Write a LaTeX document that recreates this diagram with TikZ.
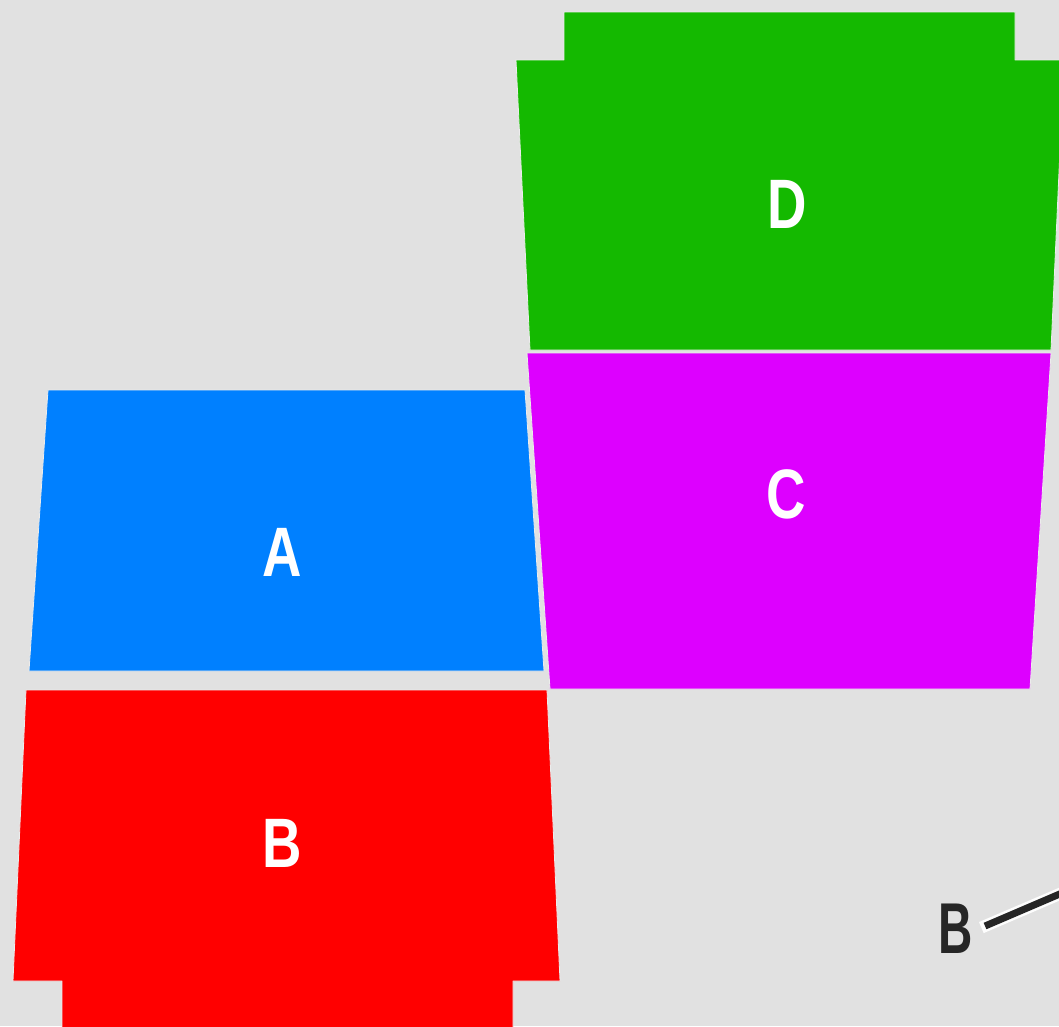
\documentclass[tikz,border=0pt]{standalone}
\usepackage{fontspec}
\usetikzlibrary{calc}
\setmainfont{Liberation Sans}
\begin{document}
\begin{tikzpicture}[x=1pt,y=-1pt,
  piece/.style={draw=white!85!gray,line width=0.8pt,line join=round},
  lbl/.style={text=white,font=\fontsize{70}{70}\selectfont\bfseries,inner sep=0pt},
  dlbl/.style={text=black!85,font=\fontsize{72}{72}\selectfont\bfseries,inner sep=0pt}]
\definecolor{bg}{HTML}{E1E1E1}
\definecolor{pa}{HTML}{0080FF}
\definecolor{pb}{HTML}{FF0000}
\definecolor{pc}{HTML}{DD00FF}
\definecolor{pd}{HTML}{14B900}
\fill[bg] (0,0) rectangle (1059,1026);
\useasboundingbox (0,0) rectangle (1059,1026);
\begin{scope}
\clip (0,0) rectangle (1059,1026);
% D
\fill[pd,piece] (564,12) -- (1015,12) -- (1015,60) -- (1064,60) -- (1051,350) -- (530,350) -- (516,60) -- (564,60) -- cycle;
% C
\fill[pc,piece] (527,353) -- (1051,353) -- (1030,689) -- (550,689) -- cycle;
% A
\fill[pa,piece] (48,390) -- (525,390) -- (544,671) -- (29,671) -- cycle;
% B
\fill[pb,piece] (26,690) -- (547,690) -- (560,981) -- (513,981) -- (513,1030) -- (62,1030) -- (62,981) -- (13,981) -- cycle;
\end{scope}
\node[lbl] (la) at (282,552) {\scalebox{0.78}[1]{A}};
\node[lbl] (lb) at (282,843) {\scalebox{0.78}[1]{B}};
\node[lbl] (lc) at (786,494) {\scalebox{0.78}[1]{C}};
\node[lbl] (ld) at (787,204) {\scalebox{0.78}[1]{D}};
\node[dlbl] (lbx) at (956,929) {\scalebox{0.66}[1]{B}};
\coordinate (lstart) at (985,926);
\coordinate (lend) at (1062,893);
\begin{scope}
\clip (0,0) rectangle (1059,1026);
\draw[white!95!bg,line width=12pt] ($(lstart)!-4pt!(lend)$) -- (lend);
\draw[black!85,line width=7pt] (lstart) -- (lend);
\end{scope}
\end{tikzpicture}
\end{document}
